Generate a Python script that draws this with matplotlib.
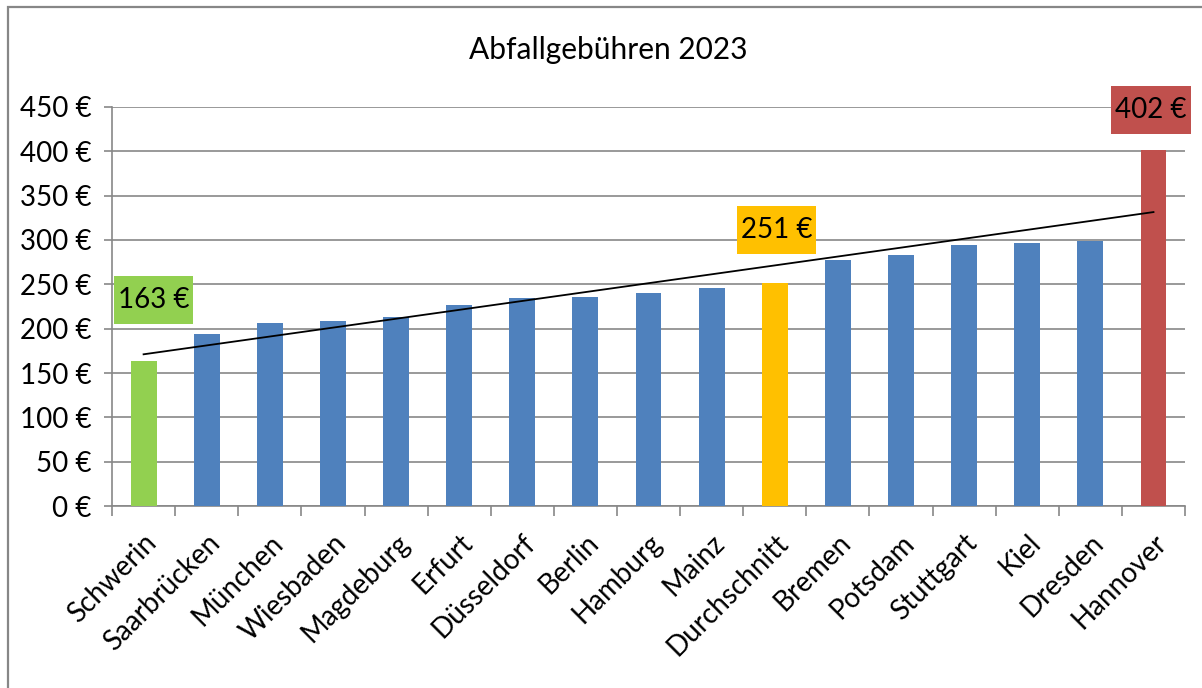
import numpy as np
import matplotlib
matplotlib.use("Agg")
import matplotlib.pyplot as plt
from matplotlib.patches import Rectangle
from matplotlib.path import Path
from matplotlib.ticker import FuncFormatter

plt.rcParams['font.family'] = ['Lato', 'DejaVu Sans']

# Daten
staedte = ['Schwerin', 'Saarbrücken', 'München', 'Wiesbaden', 'Magdeburg', 'Erfurt',
           'Düsseldorf', 'Berlin', 'Hamburg', 'Mainz', 'Durchschnitt', 'Bremen',
           'Potsdam', 'Stuttgart', 'Kiel', 'Dresden', 'Hannover']
gebuehren = [163, 194, 206, 209, 213, 227, 235, 236, 240, 246, 251, 277, 283, 294, 297, 299, 402]
y_ticks = [0, 50, 100, 150, 200, 250, 300, 350, 400, 450]

# Farben
blau = '#4F81BD'
farben = {'Schwerin': '#92D050', 'Durchschnitt': '#FFC000', 'Hannover': '#C0504D'}
bar_farben = [farben.get(s, blau) for s in staedte]
grau = '#878787'


def box_stil(x0, y0, width, height, mutation_size):
    """Rechteck mit unterschiedlichem Abstand horizontal / vertikal."""
    px, py = 0.14 * mutation_size, 0.40 * mutation_size
    x0, y0 = x0 - px, y0 - py
    x1, y1 = x0 + width + 2 * px, y0 + height + 2 * py
    return Path([(x0, y0), (x1, y0), (x1, y1), (x0, y1), (x0, y0)], closed=True)


fig = plt.figure(figsize=(12.02, 6.88), dpi=100)
ax = fig.add_axes([0.0932, 0.2645, 0.8927, 0.58])

x = np.arange(len(staedte))
ax.bar(x, gebuehren, width=0.41, color=bar_farben, zorder=3)

# lineare Trendlinie
k, d = np.polyfit(x, gebuehren, 1)
ax.plot(x, k * x + d, color='black', lw=1.3, zorder=4)

# Beschriftungen (Min, Durchschnitt, Max) mit Position der Box
labels = [(0, 'Schwerin', 0.16, 232), (10, 'Durchschnitt', 10.03, 311), (16, 'Hannover', 15.96, 447)]
for i, name, lx, ly in labels:
    ax.text(lx, ly, f'{gebuehren[i]} €', ha='center', va='center', fontsize=20, zorder=5,
            bbox=dict(boxstyle=box_stil, facecolor=farben[name], edgecolor='none'),
            clip_on=False)

ax.set_xlim(-0.5, len(staedte) - 0.5)
ax.set_ylim(0, 450)
ax.set_yticks(y_ticks)
ax.yaxis.set_major_formatter(FuncFormatter(lambda v, p: f'{int(v)} €'))
ax.grid(axis='y', color=grau, lw=1.2, zorder=0)

ax.set_xticks(np.arange(-0.5, len(staedte), 1.0))
ax.set_xticklabels([])
ax.set_xticks(x, minor=True)
ax.set_xticklabels(staedte, minor=True, rotation=45, ha='right', rotation_mode='anchor', fontsize=20)
ax.tick_params(axis='x', which='minor', length=0, pad=17)
ax.tick_params(axis='x', which='major', length=7, width=1.2, color=grau)
ax.tick_params(axis='y', length=6, width=1.2, color=grau, labelsize=20, pad=9)

for s in ['top', 'right']:
    ax.spines[s].set_visible(False)
for s in ['left', 'bottom']:
    ax.spines[s].set_color(grau)
    ax.spines[s].set_linewidth(1.2)

fig.text(0.506, 0.928, 'Abfallgebühren 2023', ha='center', va='center', fontsize=21.5)

# Rahmen des Diagramms
fig.patches.append(Rectangle((0.0067, -0.1), 1.2, 1.09, transform=fig.transFigure,
                             fill=False, edgecolor=grau, lw=1.6))

fig.savefig('out.png', dpi=100)
